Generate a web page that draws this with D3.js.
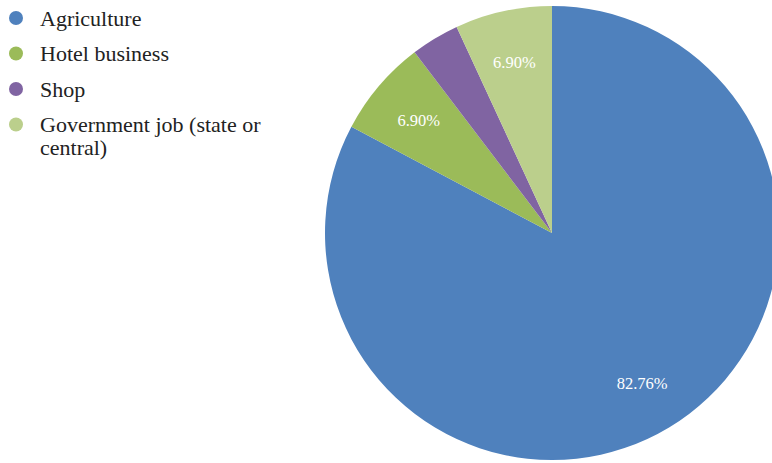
<!DOCTYPE html>
<html>
<head>
<meta charset="utf-8">
<script src="https://cdn.jsdelivr.net/npm/d3@7"></script>
<style>
  html, body { margin: 0; padding: 0; background: #fff; overflow: hidden; }
  svg { display: block; }
  text { font-family: "Liberation Serif", "Times New Roman", "DejaVu Serif", serif; }
</style>
</head>
<body>
<svg id="chart" width="772" height="463"></svg>
<script>
// Occupation shares (percent)
const categories = ["Agriculture", "Hotel business", "Shop", "Government job (state or central)"];
const legendLines = [["Agriculture"], ["Hotel business"], ["Shop"], ["Government job (state or", "central)"]];
const values = [82.76, 6.90, 3.45, 6.90];
const valueLabels = ["82.76%", "6.90%", "", "6.90%"];
const colors = ["#4F81BD", "#9BBB59", "#8064A2", "#BBCF8C"];

const svg = d3.select("#chart");
const cx = 552, cy = 233, R = 227;

const pie = d3.pie().sort(null).value(d => d)(values);
const arc = d3.arc().innerRadius(0).outerRadius(R);
const labelArc = d3.arc().innerRadius(R * 0.77).outerRadius(R * 0.77);

const g = svg.append("g").attr("transform", `translate(${cx},${cy})`);
g.selectAll("path").data(pie).join("path")
  .attr("d", arc)
  .attr("fill", (d, i) => colors[i]);

g.selectAll("text").data(pie).join("text")
  .attr("transform", d => `translate(${labelArc.centroid(d)})`)
  .attr("text-anchor", "middle")
  .attr("dy", "0.35em")
  .attr("fill", "#fff")
  .attr("font-size", 16.5)
  .text((d, i) => valueLabels[i]);

// Legend
const legend = svg.append("g").attr("font-size", 22).attr("fill", "#222");
categories.forEach((c, i) => {
  const y = 18 + i * 35.5;
  legend.append("circle").attr("cx", 16).attr("cy", y).attr("r", 7).attr("fill", colors[i]);
  const t = legend.append("text").attr("x", 40).attr("y", y);
  legendLines[i].forEach((line, j) => {
    t.append("tspan").attr("x", 40).attr("dy", j === 0 ? "0.35em" : "1.05em").text(line);
  });
});
</script>
</body>
</html>
